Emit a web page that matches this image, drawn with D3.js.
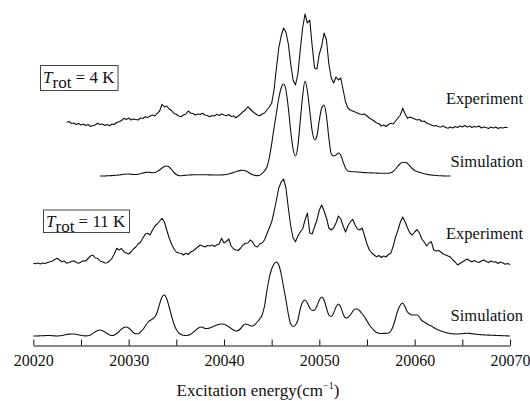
<!DOCTYPE html>
<html>
<head>
<meta charset="utf-8">
<script src="https://cdn.jsdelivr.net/npm/d3@7"></script>
<style>
  body { margin: 0; background: #fff; }
  text { font-family: "Liberation Serif", "Times New Roman", serif; fill: #111; }
</style>
</head>
<body>
<div id="svgdiv"></div>
<script>
// spectra sampled every 0.25 cm-1, each starting at its own wavenumber
var step = 0.25;
var starts = [20023.5, 20027, 20020, 20020];
// vertical stacking offset of each trace (intensity units)
var offsets = [220, 170, 80, 10];
var labels = ["Experiment", "Simulation", "Experiment", "Simulation"];
var temps = ["4", "11"];
var xTicks = [20020, 20025, 20030, 20035, 20040, 20045, 20050, 20055, 20060, 20065, 20070];

// T_rot = 4 K, experiment
var exp4 = [
  3.7, 4.5, 2.5, 3, 1.5, 2.5, 1, 2,
  0.5, 1.5, -0.5, 0.5, 1, 2.7, 1.5, 2,
  0.5, 1.5, 0.3, 2, 1.5, 3.5, 4.3, 5.5,
  7.7, 6.5, 8, 6, 7, 6.5, 6, 8,
  7.5, 9.3, 8.5, 10, 11, 10, 12.7, 15,
  21.7, 19, 20, 17, 15.5, 12.5, 11.7, 10,
  9.3, 11, 12, 15, 13, 12.5, 11, 12,
  11.5, 12.7, 11, 10.5, 9.3, 10.5, 10, 11.7,
  10.5, 12, 11, 10.3, 11.5, 9.5, 10, 8.3,
  10, 12, 14.3, 16, 19.3, 17, 14.5, 12.7,
  11, 10.3, 12, 13, 16, 19, 22.7, 36,
  58, 78, 90, 98, 94, 82, 62, 46,
  41, 52, 76, 98, 112, 103, 106, 80,
  58, 57, 72, 80, 93, 86, 62, 48,
  43, 49, 46, 48, 36, 24, 18, 16,
  15, 14, 13, 12, 11.5, 12, 10, 8,
  6.5, 5, 3, 2.5, 0, 1, -0.5, 1.5,
  2.7, 2, 5, 8, 11, 17.7, 12, 7.7,
  9, 8, 7, 6, 6.5, 4.5, 5, 3,
  2, 1, 0, 0.5, -0.7, -1, 0, -1.5,
  -2.3, -1, -2, -0.5, -1.5, 0, -1, 0.5,
  -1, 0, -1.5, -0.5, -1, 0, -2, -1,
  -1.5, -2.5, -1, -2, -1, -2.5, -1.5, -2,
  -1.3, -1.5
];

// T_rot = 4 K, simulation
var sim4 = [
  0, 0, 0, 0.2, 0.3, 0.4, 0.6, 0.8,
  1, 1.4, 1.8, 2, 2, 1.8, 1.5, 1.5,
  1.8, 2.3, 3, 3.6, 3.8, 3.6, 3.3, 3.5,
  4.5, 6, 8, 9.5, 10, 9, 6.5, 3.5,
  1.5, 0.5, 0.3, 0.5, 0.8, 1, 1.1, 1.2,
  1.3, 1.3, 1.3, 1.2, 1.2, 1.2, 1.1, 1.1,
  1, 1, 1, 1.1, 1.2, 1.5, 2, 2.8,
  3.5, 4.3, 5, 5.6, 5.8, 5.2, 4, 2.5,
  1.2, 0.6, 0.4, 0.8, 2.5, 5, 9, 18,
  32, 48, 63, 78, 88, 92, 86, 68,
  45, 27, 20, 30, 55, 80, 95, 85,
  65, 45, 36, 40, 56, 68, 71, 60,
  38, 22, 20, 21, 23, 21, 14, 8,
  5, 4.5, 4.3, 4.2, 4, 3.8, 3.6, 3.4,
  3.3, 3.2, 3.1, 3, 2.9, 2.8, 2.7, 2.7,
  2.7, 2.8, 3.2, 4.5, 7, 10, 12.5, 13.5,
  13.7, 12.5, 10, 7.5, 5.5, 4.5, 3.8, 3,
  2.3, 1.8, 1.3, 1, 0.7, 0.5, 0.3, 0.2,
  0.1, 0, 0, 0
];

// T_rot = 11 K, experiment
var exp11 = [
  2.7, 2.2, 3, 2, 3, 2.5, 3.5, 4.3,
  5, 6.5, 7.7, 6, 4.3, 5, 2.7, 3.5,
  4.5, 5.3, 3.5, 2.7, 4, 5.3, 5, 7.5,
  10, 11, 8, 7.7, 5, 4.3, 3, 3.3,
  5, 7.7, 12, 17.7, 16, 17.5, 14.3, 13,
  12, 14, 17, 19, 22, 24, 28, 32,
  32.7, 31, 36, 40, 42, 45, 47.7, 44,
  36, 28, 22, 17, 14, 13, 12.7, 11,
  12.7, 11.5, 14, 15, 17, 19, 21, 20,
  19, 20.5, 20, 21, 19.5, 21, 22, 27.7,
  23, 24.5, 27, 20, 17, 16, 15.5, 18,
  21, 22.7, 23, 26, 24, 20, 19, 22,
  23, 26, 32, 38, 44, 54, 66, 78,
  84, 87, 78, 58, 40, 28, 24.3, 30,
  34, 37, 46, 53, 33, 32, 39.3, 46,
  56, 61, 55, 48, 38, 36, 38, 43,
  50, 47, 40, 34, 40, 44, 46.7, 41,
  37, 36, 38, 30, 22, 16, 13, 11,
  9.3, 10.5, 8.5, 10, 9, 11.5, 12.7, 20,
  29, 36, 44, 49, 44, 38, 33, 31,
  34, 36.5, 33, 27, 24, 20, 23, 24.3,
  16, 15, 15.5, 14, 12, 11, 10, 9,
  6, 4, 1, 2.5, 4, 5.5, 7, 5.5,
  4, 5.5, 4.3, 3.5, 5, 6, 4.5, 3.5,
  5, 4, 4.3, 2.5, 4, 3, 1.7, 2.5,
  1.5
];

// T_rot = 11 K, simulation
var sim11 = [
  0, 0, 0.1, 0.2, 0.3, 0.4, 0.5, 0.5,
  0.3, 0.1, 0, 0.2, 0.5, 1, 1.5, 1.9,
  2, 2, 1.7, 1.2, 0.7, 0.3, 0.1, 0.2,
  1, 2.5, 4.3, 5.6, 6, 5.3, 4, 2.5,
  1.2, 0.5, 1, 2.5, 4.5, 6.8, 8.5, 9,
  8, 5.8, 3.5, 2.2, 2.3, 4, 6.5, 10,
  13.5, 15.5, 17, 19, 24, 32, 39, 41,
  37, 29, 20, 12, 6.5, 3.2, 1.5, 0.7,
  0.5, 0.8, 1.8, 3.5, 5.5, 7.5, 8.8, 9,
  7.5, 7.5, 8, 9, 10, 11, 11.8, 12,
  11.7, 10.8, 9.2, 7.5, 6, 5, 5.5, 7.5,
  10.5, 12, 11.5, 10.2, 10, 11.5, 14, 17,
  21, 30, 45, 58, 67, 72, 74, 71,
  62, 49, 36, 22, 12, 9.5, 11, 16,
  27, 34, 36, 33, 28, 25.5, 26, 30,
  36, 39, 36, 28, 21, 19.5, 23, 29,
  32, 29, 22, 18, 18.5, 21, 24.5, 27,
  27, 25, 22, 19, 15, 11, 8, 5.5,
  3.5, 2.8, 2.5, 2.6, 2.7, 3, 5, 10,
  18, 26, 31, 33, 29, 24, 22, 21,
  21, 21, 19, 15.5, 14, 12.5, 11, 10,
  8.5, 7, 6, 5, 4.2, 3.5, 3, 2.5,
  2.2, 2, 2, 2.2, 2.4, 2.6, 2.7, 2.6,
  2.3, 2, 1.7, 1.5, 1.3, 1.1, 1, 0.9,
  0.8, 0.7, 0.6, 0.5, 0.4, 0.3, 0.2, 0.1,
  0
];

var series = [exp4, sim4, exp11, sim11];

var width = 530, height = 401;
var serif = "Liberation Serif, Times New Roman, serif";

var svg = d3.select("#svgdiv").append("svg")
    .attr("width", width)
    .attr("height", height);

var x = d3.scaleLinear()
    .domain([20020, 20070])
    .range([33.3, 510]);

var y = d3.scaleLinear()
    .domain([0, 340])
    .range([346, 6]);

// traces
series.forEach(function (vals, k) {
    var isSim = (k % 2 == 1);
    var line = d3.line()
        .x(function (d, i) { return x(starts[k] + i * step); })
        .y(function (d) { return y(offsets[k] + d); })
        .curve(isSim ? d3.curveMonotoneX : d3.curveLinear);

    svg.append("path")
        .datum(vals)
        .attr("d", line)
        .attr("fill", "none")
        .attr("stroke", "#111")
        .attr("stroke-width", 1.1)
        .attr("stroke-linejoin", "round");
});

// trace names on the right
var labelY = [104, 166.5, 238.5, 320.5];
svg.selectAll("text.trace")
    .data(labels)
    .enter().append("text")
    .attr("class", "trace")
    .attr("x", 523)
    .attr("y", function (d, i) { return labelY[i]; })
    .attr("text-anchor", "end")
    .attr("font-family", serif)
    .attr("font-size", "16.5px")
    .text(function (d) { return d; });

// temperature boxes
var boxes = [
    { x: 40, y: 65, w: 77.5, h: 25, tx: 43, ty: 82.5 },
    { x: 43, y: 209.5, w: 86, h: 22.5, tx: 46, ty: 226.5 }
];
temps.forEach(function (t, i) {
    var b = boxes[i];
    svg.append("rect")
        .attr("x", b.x + 0.5).attr("y", b.y + 0.5)
        .attr("width", b.w).attr("height", b.h)
        .attr("fill", "#fff")
        .attr("stroke", "#444")
        .attr("stroke-width", 1);
    var txt = svg.append("text")
        .attr("x", b.tx)
        .attr("y", b.ty)
        .attr("font-family", serif)
        .attr("font-size", "17px");
    txt.append("tspan").attr("font-style", "italic").text("T");
    txt.append("tspan").attr("dy", 5).text("rot");
    txt.append("tspan").attr("dy", -5).text(" = " + t + " K");
});

// x axis, ticks pointing up
var axis = d3.axisBottom(x)
    .tickValues(xTicks)
    .tickSizeInner(-6)
    .tickSizeOuter(0)
    .tickPadding(9)
    .tickFormat(function (d) { return d % 10 == 0 ? d : ""; });

var gx = svg.append("g")
    .attr("transform", "translate(0,345.5)")
    .call(axis);
gx.select(".domain").attr("stroke", "#111");
gx.selectAll(".tick line").attr("stroke", "#111");
gx.selectAll(".tick text")
    .attr("font-family", serif)
    .attr("font-size", "16px")
    .attr("fill", "#111");

var title = svg.append("text")
    .attr("x", 258)
    .attr("y", 396)
    .attr("text-anchor", "middle")
    .attr("font-family", serif)
    .attr("font-size", "17px");
title.append("tspan").text("Excitation energy(cm");
title.append("tspan").attr("font-size", "10px").attr("dy", -7).text("\u22121");
title.append("tspan").attr("dy", 7).text(")");
</script>
</body>
</html>
